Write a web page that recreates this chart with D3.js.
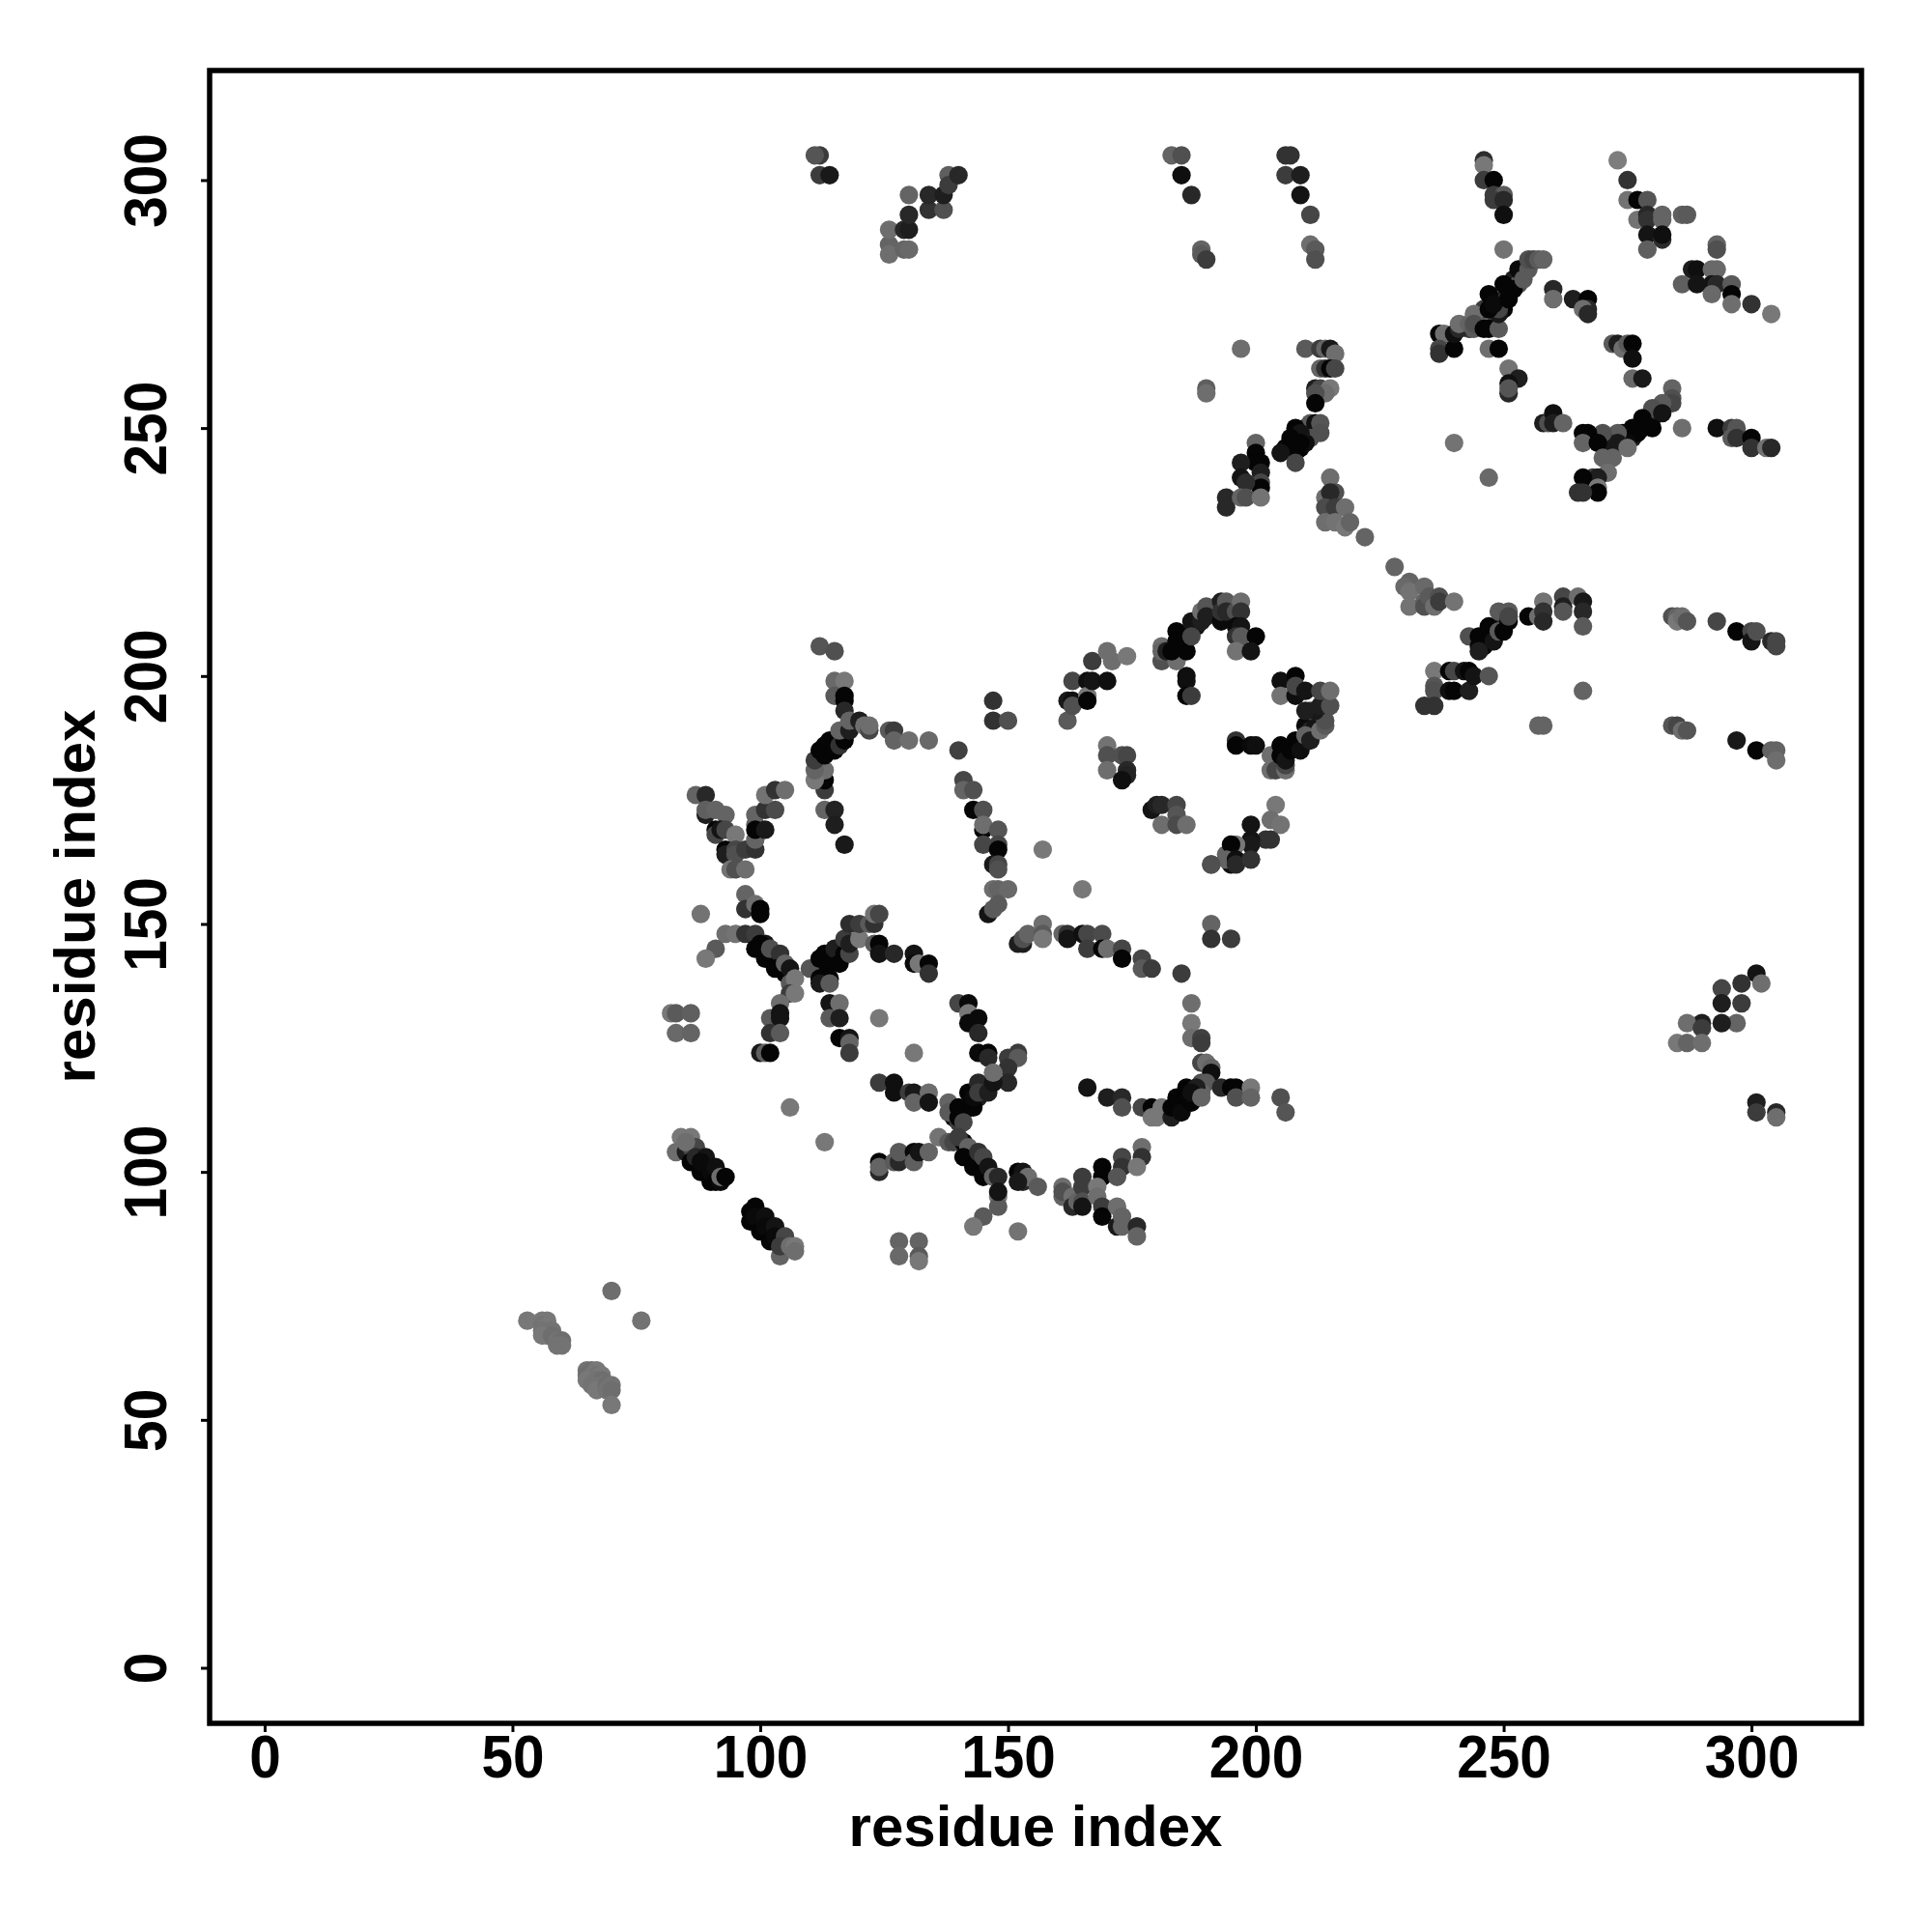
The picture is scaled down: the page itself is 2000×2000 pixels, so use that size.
<!DOCTYPE html>
<html><head><meta charset="utf-8">
<style>html,body{margin:0;padding:0;background:#fff}svg{display:block}</style>
<script src="https://cdnjs.cloudflare.com/ajax/libs/d3/7.8.5/d3.min.js"></script>
</head><body><svg id="c" width="2000" height="2000"></svg>
<script>
// Each contact: [residue i, residue j, grey level]
const tickValues = [0,50,100,150,200,250,300];
const xTitle = "residue index", yTitle = "residue index";

const denseUnderlay = [[248,273,60],[250,276,40],[252,280,30],[245,272,100],[243,270,60],[253,279,80],[250,274,5],[254,282,40],[246,274,60],
 [272,246,60],[274,247,60],[276,248,30],[278,250,30],[280,252,5],[279,251,5],[281,253,40],[272,248,80],[271,244,90],[268,240,60],
 [206,246,10],[208,248,10],[210,250,10],[209,246,5],[185,208,5],[185,206,10],[186,208,40],[188,210,20],[191,213,20],[192,214,40],
 [206,185,5],[208,186,5],[210,190,10],[211,189,40],[212,190,20],[113,186,5],[114,185,5],[115,187,5],[116,187,5],[112,184,10],
 [101,146,20],[102,143,10],[103,144,30],[105,140,5],[112,141,5],[113,141,5],[115,143,5],[114,142,5],
 [141,112,5],[142,113,5],[143,114,5],[144,115,30],[139,111,15],[140,110,60],[145,117,40],[246,207,5],[247,208,5],[248,209,10],[249,210,30],[246,206,5]];
const tailContacts = [[53,70,120],[56,70,120],[57,70,120],[56,69,115],[57,69,120],[56,68,115],[57,67,115],[58,68,115],[56,67,120],[58,67,110],[59,66,115],[60,66,110],[59,65,115],[60,65,115],[65,60,115],[65,59,110],[66,60,110],[66,59,115],[67,60,120],[66,58,110],[67,59,115],[65,58,120],[68,59,120],[67,58,115],[68,58,110],[66,57,115],[68,57,115],[67,56,120],[69,57,110],[69,56,115],[70,57,115],[70,56,110],[70,53,120],[70,76,110],[76,70,115],[106,113,120],[113,106,120]];
const sheetA = [[84,107,120],[86,107,120],[83,104,110],[85,104,30],[86,105,70],[87,105,70],[85,106,110],[86,102,5],[87,103,40],[88,100,5],[89,103,20],[88,102,10],[90,98,5],[90,100,10],[91,101,15],[91,98,5],[92,98,10],[92,99,110],[93,99,5],
 [99,93,5],[98,92,5],[98,90,5],[99,91,10],[101,91,15],[100,88,5],[101,89,10],[103,89,20],[102,86,5],[103,87,10],[105,87,70],[104,83,100],[104,85,60],[106,85,110],[107,85,120],[107,84,110]];
const regionV = [[87,176,100],[89,176,40],[89,172,30],[89,173,95],[91,173,100],[93,172,100],[91,169,5],[91,168,70],[92,169,20],[93,169,70],[95,168,120],[93,165,5],[93,164,30],[95,165,70],[95,164,80],[97,165,60],[99,165,50],[94,161,115],[95,161,80],[97,161,110],
 [99,167,100],[99,170,100],[99,172,100],[99,169,5],[101,169,25],[101,173,50],[103,173,75],[101,176,115],[103,177,50],[105,177,110]];
const regionArc = [[113,173,100],[115,173,35],[115,170,30],[117,166,25],[113,177,60],[113,179,5],[113,181,110],[111,179,120],[111,181,100],[111,183,60],[112,185,5],[113,184,5],[114,187,5],[115,185,5],[116,186,50],[117,187,5],[117,189,5],[116,189,100],[118,189,30],
 [112,206,85],[115,205,80],[115,199,105],[117,199,120],[115,196,90],[117,196,5],[117,195,5],[117,193,40],[118,191,100],[120,191,30],[121,190,110],[122,189,70],[122,190,110],[126,189,90],[127,189,60],[127,187,100],[130,187,110],[134,187,105],[140,185,65],
 [141,179,70],[141,177,100],[143,177,80],[143,173,5],[145,173,80],[145,169,5],[145,170,110],[148,169,85],[145,166,70],[148,166,70],[148,165,5],[147,162,25],[148,162,70],[148,161,80],[147,157,110],[148,157,100],[150,157,105],[146,152,20],[147,153,90],[148,154,90],
 [147,195,50],[147,191,50],[150,191,80],[157,165,120],[165,157,120]];
const regionCross = [[97,156,100],[97,153,50],[99,154,110],[100,153,5],[100,152,5],[88,152,115],[93,148,110],[95,148,115],[97,148,50],[99,148,60],[91,145,90],[89,143,120],
 [99,145,5],[100,146,5],[101,143,5],[102,145,80],[104,144,50],[103,141,5],[105,142,100],[106,141,20],[106,138,90],[107,139,120],[106,136,60],[107,136,120],[104,134,110],
 [110,141,85],[112,143,5],[112,139,5],[114,139,5],[113,144,5],[112,138,25],[114,138,90],[115,145,30],[116,142,5],[117,144,5],[118,144,70],[117,147,60],[118,146,30],[120,147,120],[118,150,45],[120,150,60],[122,150,90],[123,150,50],[123,152,115],[124,152,70],
 [123,146,90],[124,146,5],[124,144,20],[127,144,40],[131,144,20],[131,142,10],[132,142,120],[134,142,5],[134,140,50]];
const regionLoop = [[82,132,120],[83,132,90],[86,132,95],[83,128,105],[86,128,100],[102,131,90],[104,132,20],[104,131,20],[102,128,50],[104,128,90],[100,124,25],[101,124,95],[102,124,5],
 [114,134,20],[116,134,110],[114,131,90],[116,131,30],[116,127,5],[118,127,20],[118,126,100],[118,124,60],[124,131,120],[131,124,120],
 [140,134,70],[142,134,10],[142,132,120],[142,130,10],[144,131,10],[144,128,40],[144,124,10],[146,124,5],[146,123,40],[150,123,60],[152,124,60],[152,123,90],[150,121,50],[150,118,40],[147,120,110],[147,118,20]];
const regionHub = [[124,118,60],[127,118,15],[127,116,15],[130,116,60],[131,116,25],[134,116,110],[131,114,100],[134,114,20],[138,114,100],[138,112,90],[140,113,5],[140,111,5],[142,116,5],[143,113,5],[141,110,70],[143,115,10],[144,118,40],[144,116,60],[146,116,30],[147,118,20],[147,120,110],
 [124,102,5],[124,100,40],[124,101,100],[127,102,90],[128,102,40],[128,104,90],[131,104,10],[131,102,95],[132,104,20],[134,104,100],[136,107,115],[138,106,90],[139,106,70],[141,106,5],[140,107,60],[142,105,100],[141,103,5],[143,101,5],[144,104,50],[145,99,5],[145,103,70],[146,101,20],[147,99,100],[148,99,40],[148,95,120],[148,93,90],[148,96,20],[145,91,90],[143,89,120],[152,88,115],
 [128,86,100],[132,86,100],[128,83,105],[132,83,90],[132,82,120]];
const regionLower = [[152,100,5],[153,100,20],[153,98,40],[154,99,110],[152,98,25],[156,97,90],[161,97,110],[161,95,100],[161,96,80],[163,95,110],[163,93,40],[164,94,100],[165,99,60],[165,97,60],[165,94,80],[165,93,20],[169,101,5],[169,99,5],[168,97,120],[173,103,70],[173,101,50],[172,99,85],[177,105,110],[177,103,50],[176,101,120],[168,95,110],[169,93,60],[169,91,5],[172,93,110],[172,89,25],[173,91,100],[173,89,100],[176,89,40],[176,87,100]];
const regionBand = [[152,146,30],[153,146,30],[153,147,80],[154,148,100],[157,150,110],[157,148,90],[157,147,120],[161,148,100],[162,148,50],[162,147,20],[165,148,15],[166,148,70],[169,148,75],[166,145,60],[169,145,5],[170,145,110],[173,145,70],[173,143,5],[177,143,70],[177,141,90],[179,141,60],[185,140,60],
 [187,134,110],[187,130,120],[187,127,110],[189,127,65],[189,126,60],[189,122,70],[190,122,110],[191,121,100],[191,120,15],[189,118,80],[190,118,90],[189,116,100],[193,117,40],[195,117,5],[196,117,5],[196,115,80],[199,117,120],[199,115,100],[205,115,80],[206,112,85],
 [166,117,20],[170,115,30],[173,115,40],[173,113,80],[177,113,70],[179,113,5],[179,111,120],[180,111,120],[181,113,120],[183,111,30],[183,113,5],[184,115,5],[185,112,10],[186,117,5],[187,114,5],[186,115,5],[188,117,30],[187,116,15],[189,115,100],
 [191,162,70],[194,164,100],[195,163,15],[199,163,50],[195,162,15],[191,150,100],[191,147,50],[195,147,60]];
const regionRing = [[162,191,90],[162,195,25],[163,195,15],[163,194,80],[163,199,70],[166,199,15],[166,196,120],[166,195,5],[167,199,20],[170,199,15],[167,203,60],[170,205,110],[171,203,110],[174,204,120],
 [170,186,115],[170,184,80],[170,181,110],[173,184,80],[174,184,70],[174,181,40],[174,180,35],[173,179,15],[179,173,20],[180,174,30],[181,174,40],[184,174,70],[184,172,85],[181,170,110],[184,170,75],[186,170,110],
 [204,174,120],[203,171,110],[205,170,115],[199,170,20],[203,167,50],[202,167,50],[199,167,20],[199,166,25],[196,166,120],[195,166,5],[194,163,100],[196,163,15],[196,162,40],[199,163,50],[191,162,80],
 [186,200,15],[186,199,15],[186,196,5],[187,196,60],[196,187,50],[196,186,5],[199,186,10],[200,186,15],
 [203,184,110],[203,181,110],[204,181,70],[206,181,110],[206,182,70],[205,186,5],[205,184,5],[206,183,20],[207,185,5],[208,187,5],[209,185,15],[210,188,100],[211,187,30],[213,189,110],[214,190,90],[214,191,80],[211,193,70],[212,193,25],[210,193,30],[213,194,30],[215,194,80],[205,199,15],[208,200,5],[205,196,115],[208,196,15],[208,198,70],[210,197,20],[213,197,70],[215,197,110],
 [181,206,110],[181,203,80],[181,205,100],[182,205,30],[184,203,110],[183,205,5],[186,205,5],[184,209,5],[184,207,5],[187,211,20],[187,208,70],[189,211,30],[189,213,110],[190,214,85],[190,212,30],[193,215,30],[193,211,10],[193,213,50],[194,215,90],[194,213,40],[196,213,80],[197,215,110],[197,213,50],[196,210,10],[197,210,20],[196,208,50],[197,208,90],[200,208,5],[196,205,115],[199,205,20]];
const regionLadder = [[197,266,110],[190,258,95],[190,257,110],[210,266,90],[213,266,60],[214,266,100],[215,266,25],[216,265,110],[213,262,100],[214,262,50],[215,262,5],[216,262,70],[212,258,30],[213,258,70],[215,258,120],[214,257,110],[212,257,80],[212,255,5],
 [211,251,90],[212,251,15],[213,251,85],[213,249,80],[211,248,80],[208,250,5],[210,247,15],[209,249,20],[207,248,5],[209,247,5],[208,245,5],[207,246,5],[205,245,20],[208,243,70],
 [200,247,100],[200,245,5],[200,243,5],[201,243,5],[201,241,30],[201,239,70],[201,238,5],[197,243,30],[197,240,20],[198,239,45],[194,236,40],[194,234,40],[197,236,100],[198,236,80],[201,236,115],
 [215,240,110],[214,236,110],[216,237,80],[215,237,40],[214,234,75],[216,234,60],[218,234,110],[214,231,110],[216,231,115],[218,230,120],[219,231,100],[222,228,100],[228,222,100],[231,219,100],[240,247,115],[247,240,105]];
const regionPeak = [[230,218,105],[231,217,115],[231,214,115],[234,218,105],[234,215,100],[234,214,80],[235,216,90],[236,214,110],[237,216,80],[237,215,60],[240,215,115],
 [243,208,80],[245,208,5],[245,206,5],[245,205,30],[247,210,5],[248,207,20],[249,213,90],[249,209,90],[250,209,5],[251,213,90],[251,211,5],[251,212,70],[255,212,5],[257,212,110],[258,215,115],[258,213,50],[258,211,40],[262,216,70],[262,214,30],[262,213,85],[265,216,110],[266,215,25],[266,213,40],[266,210,90],[266,197,100],[257,190,100],[258,190,100],
 [236,201,120],[236,198,85],[236,197,80],[234,194,50],[236,194,50],[239,201,5],[240,201,70],[239,197,15],[240,197,5],[242,201,20],[243,201,5],[243,197,30],[244,200,20],[247,200,85],
 [284,212,80],[285,212,100],[285,211,120],[286,212,110],[287,211,85],[293,211,70],[297,209,5],[300,209,70],[300,207,20],[301,209,80],[304,207,40],[305,207,70],[305,206,70],[284,190,85],[285,190,70],[286,189,110],[287,189,85],[297,187,25],[301,185,5],[304,185,100],[305,185,100],[305,183,110]];
const regionTop = [[246,304,45],[246,303,120],[246,300,60],[248,300,5],[248,297,60],[250,297,90],[248,296,60],[250,296,40],[250,293,15],[250,286,115],[273,304,125],[275,300,50],[275,296,115],[277,296,5],[279,296,85],[277,292,115],[279,293,40],[279,292,50],[282,293,100],[282,292,100],[286,293,95],[287,293,90],[279,289,20],[282,288,45],[282,289,15],[279,286,95],
 [293,287,100],[293,286,80],[288,282,30],[289,282,15],[292,282,105],[293,282,105],[286,279,95],[289,279,20],[292,279,20],[293,279,40],[296,279,90],[292,277,105],[296,277,5],[296,275,110],[300,275,50],[304,273,120]];
const regionCore = [[237,269,5],[238,269,110],[237,266,70],[237,265,50],[240,266,5],[240,269,15],[241,270,40],[241,271,110],[243,271,100],[244,273,110],[244,270,90],[244,271,80],[246,270,5],[247,270,5],[247,266,110],[249,266,5],[249,270,90],[249,273,25],[249,274,70],[247,277,5],[247,274,5],[248,275,10],[250,279,5],[251,276,5],[252,278,5],[251,278,5],[253,282,10],[254,280,90],[255,282,90],[255,284,80],[256,284,70],[257,284,90],[258,284,100],
 [251,262,115],[253,260,30],[251,259,15],[251,257,40],[251,258,85],[260,278,40],[260,276,110],[264,276,30],[267,276,5],[267,274,40],[266,274,110],[267,273,40],
 [272,267,90],[273,267,30],[274,266,110],[275,267,90],[276,267,5],[276,264,15],[276,260,105],[278,260,25],
 [284,258,100],[284,256,80],[284,255,70],[282,255,90],[280,254,80],[282,253,20],[278,252,5],[280,250,5],[276,250,5],[277,249,5],[274,249,5],[275,247,10],[273,249,90],[273,247,25],[275,246,110],[271,247,25],[272,244,100],[270,249,80],[266,249,5],[267,249,5],[266,247,100],[269,247,5],[270,244,100],[271,241,110],[269,240,30],[266,240,5],[269,238,120],[269,237,5],[265,237,50],[266,237,50],
 [258,251,30],[259,251,80],[260,253,15],[260,251,30],[262,251,100],[286,250,110],[293,250,15],[296,250,60],[297,250,85],[296,248,90],[297,248,50],[300,248,5],[300,246,50],[303,246,115],[304,246,40]];
const regionCorner = [[112,305,60],[111,305,85],[112,301,60],[114,301,25],[126,287,100],[126,285,110],[126,290,110],[129,286,100],[130,286,105],[129,290,40],[130,290,30],[130,293,40],[130,297,100],[134,294,50],[134,297,40],[137,294,80],[137,297,30],[138,301,95],[138,299,60],[140,301,40],
 [183,305,100],[185,305,80],[185,301,15],[187,297,40],[189,286,100],[189,285,90],[190,284,60],[206,305,50],[207,305,50],[206,301,60],[209,301,30],[209,297,20],[211,293,70],[211,287,110],[212,286,90],[212,284,80],
 [301,140,20],[302,138,110],[298,138,50],[298,134,60],[294,137,70],[294,134,30],[297,130,100],[294,130,30],[290,130,30],[287,130,110],[290,129,60],[285,126,120],[287,126,100],[290,126,110],[301,114,30],[301,112,60],[305,112,40],[305,111,110]];

const contacts = [...denseUnderlay,...tailContacts,...sheetA,...regionV,...regionArc,...regionCross,...regionLoop,...regionHub,...regionLower,...regionBand,...regionRing,...regionLadder,...regionPeak,...regionTop,...regionCore,...regionCorner];

const svg = d3.select("#c");
const x = d3.scaleLinear().domain([-11.1,322.2]).range([217,1927]);
const y = d3.scaleLinear().domain([-11.2,322.1]).range([1784,73]);
const font = "'Liberation Sans', Arial, sans-serif";

svg.append("g").selectAll("circle").data(contacts).join("circle")
  .attr("cx",d=>x(d[0])).attr("cy",d=>y(d[1])).attr("r",9.6)
  .attr("fill",d=>d3.rgb(d[2],d[2],d[2]));

const gx = svg.append("g").attr("transform","translate(0,1784)")
  .call(d3.axisBottom(x).tickValues(tickValues).tickSize(9).tickPadding(12).tickSizeOuter(0));
const gy = svg.append("g").attr("transform","translate(217,0)")
  .call(d3.axisLeft(y).tickValues(tickValues).tickSize(9).tickPadding(0).tickSizeOuter(0));
[gx,gy].forEach(g=>{g.select(".domain").remove();
  g.selectAll("line").attr("stroke","#000").attr("stroke-width",3);
  g.selectAll("text").attr("fill","#000").attr("font-family",font).attr("font-weight","bold").attr("font-size",58);});
gx.selectAll("text").attr("dy",null).attr("y",null).attr("x",null).attr("text-anchor","middle")
  .attr("transform","translate(0,56) scale(1.01,1.09)");
gy.selectAll("text").attr("x",null).attr("dy",null).attr("text-anchor","middle")
  .attr("transform","translate(-45,0) rotate(-90) scale(1.01,1.09)");

svg.append("rect").attr("x",217).attr("y",73).attr("width",1710).attr("height",1711)
  .attr("fill","none").attr("stroke","#000").attr("stroke-width",5.5);

svg.append("text").attr("x",1072).attr("y",1911).attr("text-anchor","middle")
  .attr("font-family",font).attr("font-weight","bold").attr("font-size",60).text(xTitle);
svg.append("text").attr("transform","translate(98,928) rotate(-90)").attr("text-anchor","middle")
  .attr("font-family",font).attr("font-weight","bold").attr("font-size",60).text(yTitle);
</script></body></html>
